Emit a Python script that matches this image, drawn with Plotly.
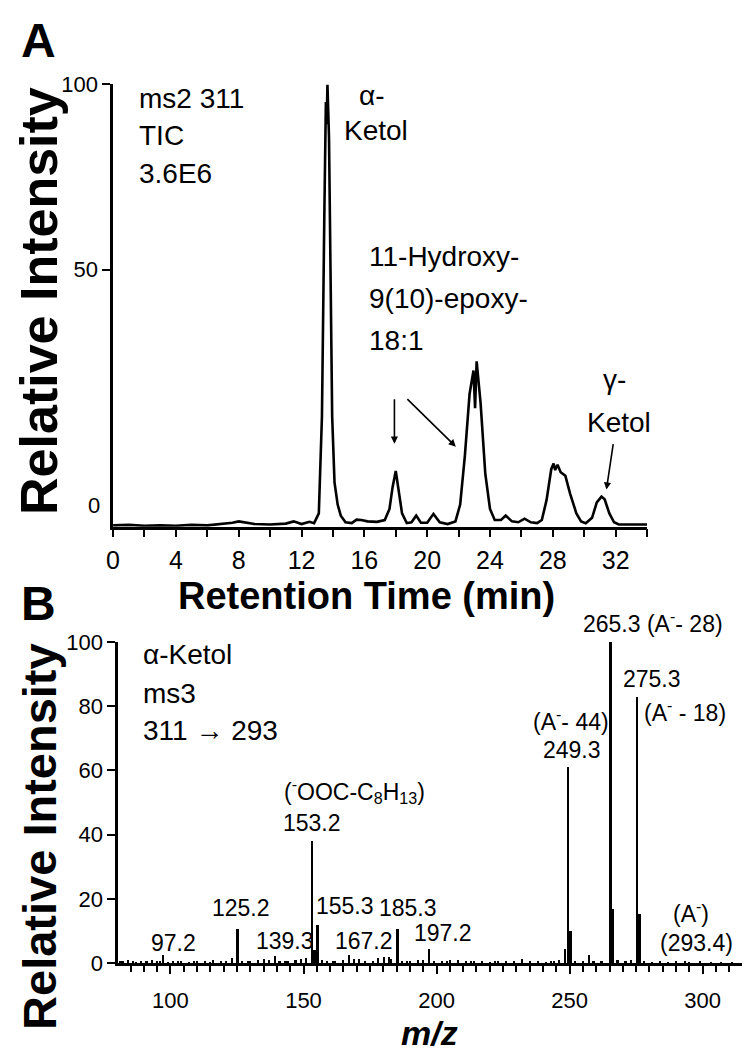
import plotly.graph_objects as go

# ---------------- Panel A: chromatogram (ms2 311 TIC) ----------------
rt_min = [0.0, 1.0, 2.0, 3.0, 4.0, 5.0, 6.0, 7.0, 7.6, 8.0, 8.4, 9.0, 10.0, 11.0, 11.5, 12.0,
          12.5, 12.8, 13.1, 13.3, 13.45, 13.55, 13.6, 13.65, 13.75, 13.85, 13.95, 14.1, 14.3,
          14.5, 14.8, 15.2, 15.5, 15.8, 16.2, 16.8, 17.3, 17.6, 17.8, 18.0, 18.2, 18.4, 18.7,
          19.0, 19.3, 19.6, 20.0, 20.4, 20.8, 21.3, 21.8, 22.1, 22.4, 22.7, 22.95, 23.05, 23.15,
          23.4, 23.7, 24.0, 24.3, 24.7, 25.0, 25.4, 25.8, 26.2, 26.6, 27.0, 27.3, 27.6, 27.9,
          28.05, 28.15, 28.3, 28.5, 28.8, 29.1, 29.5, 29.8, 30.1, 30.5, 30.8, 31.1, 31.3, 31.6,
          31.9, 32.2, 33.0, 34.0]
rel_int_a = [0.3, 0.4, 0.2, 0.3, 0.2, 0.4, 0.3, 0.6, 0.9, 1.2, 1.0, 0.6, 0.5, 0.7, 1.2, 0.6,
             1.1, 0.8, 3.0, 25.0, 70.0, 96.0, 91.0, 100.0, 88.0, 55.0, 25.0, 10.0, 5.0,
             2.5, 1.0, 0.8, 1.6, 1.5, 1.2, 1.1, 1.5, 4.0, 9.0, 12.6, 8.0, 3.0, 0.8,
             1.0, 2.5, 0.9, 0.9, 2.9, 1.0, 0.6, 1.2, 5.0, 16.0, 30.0, 35.3, 26.8, 37.4,
             28.0, 12.0, 4.0, 1.5, 1.5, 2.5, 1.2, 1.0, 1.8, 1.0, 0.8, 1.5, 6.0, 13.0,
             14.3, 12.8, 14.0, 12.3, 11.5, 7.5, 3.0, 1.2, 0.8, 2.0, 5.5, 6.8, 6.2, 3.0,
             1.0, 0.5, 0.5, 0.5]

# ---------------- Panel B: ms3 spectrum of alpha-ketol ----------------
peak_mz = [97.2, 125.2, 139.3, 153.2, 154.2, 155.3, 167.2, 180.2, 182.2, 185.3, 197.2,
           248.3, 249.3, 250.3, 257.3, 265.3, 266.3, 275.3, 276.3, 293.4]
peak_int = [2.5, 10.5, 2.2, 38.0, 4.0, 11.8, 2.5, 2.0, 1.8, 10.8, 4.3,
            4.5, 61.0, 10.0, 2.7, 100.0, 16.9, 83.0, 15.4, 0.6]
noise_mz = [81, 82, 84, 86, 87, 89, 91, 93, 95, 96, 99, 101, 103, 104, 107, 109, 110, 113, 115,
            116, 119, 121, 123, 127, 129, 130, 133, 135, 137, 141, 143, 144, 147, 149, 151, 157,
            159, 161, 162, 165, 169, 171, 173, 176, 178, 183, 187, 189, 190, 193, 195, 199, 202,
            204, 205, 208, 211, 213, 214, 217, 220, 222, 223, 226, 229, 232, 235, 238, 241, 243,
            244, 246, 252, 255, 259, 262, 268, 271, 273, 278, 281, 284, 287, 290, 295, 299, 303,
            307, 311, 315]
noise_int = [0.8, 0.6, 0.9, 0.6, 0.5, 0.7, 0.8, 1.0, 0.7, 0.6, 0.5, 0.6, 0.7, 0.8, 0.5, 0.6,
             0.7, 0.6, 0.5, 0.9, 0.7, 0.7, 1.6, 0.8, 0.6, 0.6, 1.0, 1.3, 0.9, 0.8, 0.6, 0.7, 1.0,
             1.2, 1.5, 1.0, 0.8, 0.6, 0.7, 1.0, 1.2, 1.3, 0.8, 0.7, 1.6, 1.2, 0.6, 0.7, 0.8, 0.9,
             1.1, 0.7, 0.6, 0.6, 1.0, 0.9, 0.7, 0.6, 0.6, 0.8, 0.5, 0.6, 0.7, 0.6, 0.8, 1.2, 0.6,
             0.7, 0.5, 0.6, 0.8, 0.9, 0.7, 0.6, 0.8, 0.7, 0.9, 0.6, 1.0, 0.7, 0.5, 0.6, 0.5, 0.6,
             0.5, 0.6, 0.5, 0.4, 0.5, 0.4]

a_xticks = [0, 4, 8, 12, 16, 20, 24, 28, 32]
a_yticks_text = ["50", "100"]
b_xticks = [100, 150, 200, 250, 300]
b_yticks = [0, 20, 40, 60, 80, 100]

W, H = 750, 1054
BLACK = "#000000"
SANS = "Liberation Sans, Arial, sans-serif"


def px(x):
    return x / W


def py(y):
    return 1 - y / H


fig = go.Figure()

fig.add_trace(go.Scatter(x=rt_min, y=rel_int_a, mode="lines",
                         line=dict(color=BLACK, width=2.6), xaxis="x", yaxis="y",
                         showlegend=False, hoverinfo="skip"))

fig.add_trace(go.Bar(x=noise_mz, y=noise_int, width=0.8, marker=dict(color=BLACK, line=dict(width=0)),
                     xaxis="x2", yaxis="y2", showlegend=False, hoverinfo="skip"))
fig.add_trace(go.Bar(x=peak_mz, y=peak_int, width=0.9, marker=dict(color=BLACK, line=dict(width=0)),
                     xaxis="x2", yaxis="y2", showlegend=False, hoverinfo="skip"))

axis_common = dict(showline=True, linecolor=BLACK, linewidth=2.5, showgrid=False, zeroline=False,
                   ticks="outside", tickcolor=BLACK, tickwidth=2, ticklen=8,
                   tickfont=dict(family=SANS, size=22, color=BLACK))

fig.update_layout(
    width=W, height=H, autosize=False,
    margin=dict(l=0, r=0, t=0, b=0),
    paper_bgcolor="white", plot_bgcolor="white",
    barmode="overlay", bargap=0,
    xaxis=dict(axis_common, domain=[px(99), px(638)], range=[0, 34], anchor="y",
               tickvals=a_xticks, ticklabelstandoff=2,
               tickfont=dict(family=SANS, size=25, color=BLACK),
               minor=dict(dtick=2, ticks="outside", ticklen=8, tickwidth=2,
                          tickcolor=BLACK, tick0=0)),
    yaxis=dict(axis_common, domain=[py(519), py(66)], range=[0, 100], anchor="x",
               tickvals=[58.1, 100], ticktext=a_yticks_text),
    xaxis2=dict(axis_common, domain=[px(104), px(746)], range=[80.3, 319.3], anchor="y2",
                tickvals=b_xticks, ticklabelstandoff=8,
                minor=dict(dtick=5, tick0=0, ticks="outside", ticklen=6, tickwidth=1.5, tickcolor=BLACK)),
    yaxis2=dict(axis_common, domain=[py(966), py(637)], range=[0, 100], anchor="x2",
                tickvals=b_yticks),
)

ann = []


def label(text, x, y, size=28, family=SANS, xanchor="left", yanchor="middle", bold=False, **kw):
    if bold:
        text = "<b>" + text + "</b>"
    ann.append(dict(text=text, x=px(x), y=py(y), xref="paper", yref="paper", showarrow=False,
                    xanchor=xanchor, yanchor=yanchor,
                    font=dict(family=family, size=size, color=BLACK), **kw))


def arrow(x0, y0, x1, y1):
    ann.append(dict(text="", x=px(x1), y=py(y1), xref="paper", yref="paper",
                    ax=x0 - x1, ay=y0 - y1, axref="pixel", ayref="pixel",
                    showarrow=True, arrowhead=2, arrowsize=0.9, arrowwidth=1.6, arrowcolor=BLACK))


# panel letters & titles
label("A", 24, 21, size=48, bold=True, xanchor="center")
label("B", 24, 598, size=48, bold=True, xanchor="center")
label("Relative Intensity", 24, 288, size=52, bold=True, xanchor="center", textangle=-90)
label("Relative Intensity", 24, 836, size=47, bold=True, xanchor="center", textangle=-90)
label("Retention Time (min)", 355, 590, size=38, bold=True, xanchor="center")
label("<i>m/z</i>", 418, 1038, size=34, bold=True, xanchor="center")
label("0", 88, 497, size=22, xanchor="right")

# panel A annotations
label("ms2 311", 123, 80)
label("TIC", 123, 118)
label("3.6E6", 123, 157)
label("α-", 360, 77, xanchor="center")
label("Ketol", 364, 113, xanchor="center")
label("11-Hydroxy-", 355, 242)
label("9(10)-epoxy-", 355, 285)
label("18:1", 355, 328)
label("γ-", 605, 368, xanchor="center")
label("Ketol", 610, 412, xanchor="center")
arrow(383, 388, 383, 434)
arrow(395, 388, 445, 437)
arrow(604, 434, 597, 481)

# panel B annotations
label("α-Ketol", 127, 650)
label("ms3", 127, 690)
label("311 → 293", 127, 728)
NS = 23
label("265.3 (A<sup>-</sup>- 28)", 571, 617, size=NS)
label("275.3", 612, 675, size=NS)
label("(A<sup>-</sup> - 18)", 633, 708, size=NS)
label("(A<sup>-</sup>- 44)", 521, 717, size=NS)
label("249.3", 531, 748, size=NS)
label("(<sup>-</sup>OOC-C<sub>8</sub>H<sub>13</sub>)", 270, 790, size=NS)
label("153.2", 300, 822, size=NS, xanchor="center")
label("125.2", 228, 910, size=NS, xanchor="center")
label("155.3", 333, 908, size=NS, xanchor="center")
label("185.3", 397, 910, size=NS, xanchor="center")
label("97.2", 160, 945, size=NS, xanchor="center")
label("139.3", 273, 943, size=NS, xanchor="center")
label("167.2", 352, 943, size=NS, xanchor="center")
label("197.2", 432, 935, size=NS, xanchor="center")
label("(A<sup>-</sup>)", 682, 914, size=NS, xanchor="center")
label("(293.4)", 688, 945, size=NS, xanchor="center")

fig.update_layout(annotations=ann)

fig.write_html("out.html")
